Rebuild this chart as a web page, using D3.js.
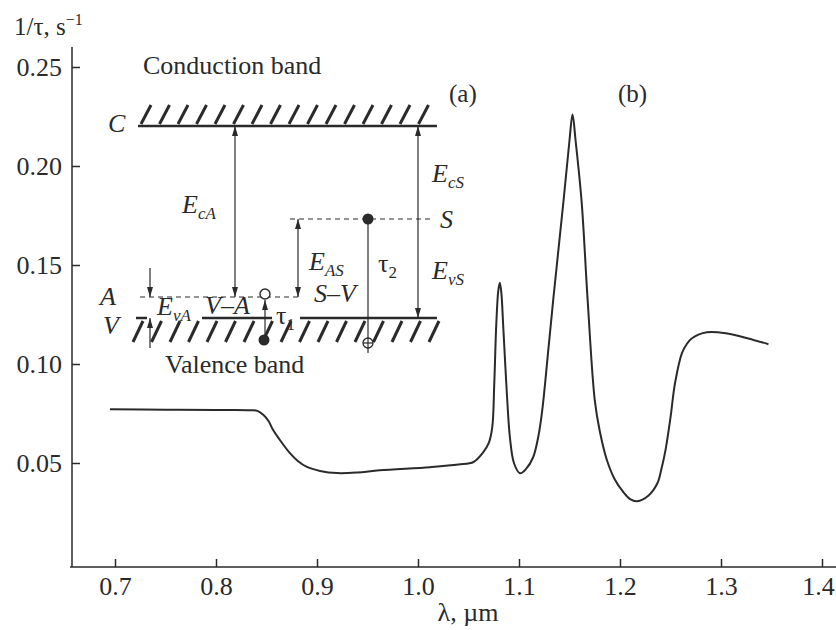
<!DOCTYPE html>
<html>
<head>
<meta charset="utf-8">
<script src="https://cdn.jsdelivr.net/npm/d3@7"></script>
<style>
  body { margin: 0; background: #fff; }
  text { font-family: "Liberation Serif", "DejaVu Serif", serif; fill: #2a2a2a; }
</style>
</head>
<body>
<script>
// curve
var wavelengths = [0.695, 0.750, 0.800, 0.834, 0.841, 0.847, 0.852, 0.856, 0.864, 0.873,
                   0.881, 0.890, 0.903, 0.920, 0.940, 0.962, 1.012, 1.040, 1.055, 1.064,
                   1.070, 1.0735, 1.0755, 1.0775, 1.0795, 1.081, 1.0825, 1.0845, 1.088, 1.091,
                   1.095, 1.101, 1.107, 1.114, 1.119, 1.123, 1.129, 1.134, 1.144, 1.150,
                   1.153, 1.156, 1.162, 1.168, 1.175, 1.180, 1.187, 1.195, 1.203, 1.210,
                   1.217, 1.228, 1.237, 1.241, 1.245, 1.250, 1.2545, 1.2614, 1.266, 1.2713,
                   1.286, 1.306, 1.326, 1.347];
var rates = [0.0771, 0.0769, 0.0768, 0.0767, 0.0763, 0.0742, 0.0712, 0.0672, 0.0611, 0.0551,
             0.0510, 0.0480, 0.0460, 0.0449, 0.0452, 0.0463, 0.0479, 0.0492, 0.0505, 0.0550,
             0.0600, 0.0680, 0.0900, 0.1200, 0.1370, 0.1410, 0.1360, 0.1180, 0.0850, 0.0630,
             0.0500, 0.0448, 0.0470, 0.0529, 0.0630, 0.0766, 0.1070, 0.1330, 0.1820, 0.2130,
             0.2260, 0.2130, 0.1820, 0.1320, 0.0818, 0.0660, 0.0515, 0.0415, 0.0355, 0.0318,
             0.0307, 0.0335, 0.0398, 0.0470, 0.0564, 0.0730, 0.0904, 0.1056, 0.1100, 0.1130,
             0.1160, 0.1154, 0.1130, 0.1100];
var xTicks = [0.7, 0.8, 0.9, 1.0, 1.1, 1.2, 1.3, 1.4];
var yTicks = [0.05, 0.10, 0.15, 0.20, 0.25];

function init(){
    var w = 836;
    var h = 630;
    var ink = "#2a2a2a";
    var fs = 26;

    var xScale = d3.scaleLinear()
                    .domain([0.7, 1.4])
                    .range([115, 822]);

    var yScale = d3.scaleLinear()
                    .domain([0.05, 0.25])
                    .range([463, 67]);

    var svg = d3.select("body")
                .append("svg")
                .attr("width", w)
                .attr("height", h);

    var defs = svg.append("defs");
    defs.append("marker")
        .attr("id", "head")
        .attr("viewBox", "0 0 10 6")
        .attr("refX", 10)
        .attr("refY", 3)
        .attr("markerUnits", "userSpaceOnUse")
        .attr("markerWidth", 10)
        .attr("markerHeight", 6)
        .attr("orient", "auto-start-reverse")
        .append("path")
        .attr("d", "M0,0 L10,3 L0,6 z")
        .attr("fill", ink);

    // axes
    var yAxis = d3.axisLeft(yScale)
                  .tickValues(yTicks)
                  .tickSizeInner(-8)
                  .tickSizeOuter(0)
                  .tickPadding(10)
                  .tickFormat(d3.format(".2f"));
    var gy = svg.append("g")
                .attr("transform", "translate(72,0)")
                .call(yAxis);

    var xAxis = d3.axisBottom(xScale)
                  .tickValues(xTicks)
                  .tickSizeInner(-8)
                  .tickSizeOuter(0)
                  .tickPadding(10)
                  .tickFormat(d3.format(".1f"));
    var gx = svg.append("g")
                .attr("transform", "translate(0,567)")
                .call(xAxis);

    [gx, gy].forEach(function(g) {
        g.select(".domain").remove();
        g.selectAll("line").attr("stroke", ink).attr("stroke-width", 1.5);
        g.selectAll("text")
            .attr("font-size", fs)
            .attr("font-family", "Liberation Serif")
            .attr("fill", ink);
    });
    // last label sits right at the page edge
    gx.selectAll(".tick text")
        .filter(function(d) { return d === 1.4; })
        .attr("dx", -4);

    svg.append("line")
        .attr("x1", 72).attr("y1", 47)
        .attr("x2", 72).attr("y2", 567)
        .attr("stroke", ink).attr("stroke-width", 1.5);
    svg.append("line")
        .attr("x1", 70).attr("y1", 567)
        .attr("x2", 836).attr("y2", 567)
        .attr("stroke", ink).attr("stroke-width", 1.5);

    // axis titles
    var yTitle = svg.append("text")
        .attr("x", 14).attr("y", 35)
        .attr("font-size", 25);
    yTitle.append("tspan").text("1/\u03c4, s");
    yTitle.append("tspan").attr("dy", -10).attr("font-size", 16).text("\u22121");

    svg.append("text")
        .attr("x", 468).attr("y", 621)
        .attr("text-anchor", "middle")
        .attr("font-size", fs)
        .text("\u03bb, \u00b5m");

    // the curve
    var points = wavelengths.map(function(d, i) { return [d, rates[i]]; });
    var line = d3.line()
                 .x(function(d) { return xScale(d[0]); })
                 .y(function(d) { return yScale(d[1]); })
                 .curve(d3.curveCatmullRom.alpha(0.5));
    svg.append("path")
        .datum(points)
        .attr("d", line)
        .attr("fill", "none")
        .attr("stroke", ink)
        .attr("stroke-width", 2);

    // panel labels
    svg.append("text").attr("x", 449).attr("y", 102).attr("font-size", 25).text("(a)");
    svg.append("text").attr("x", 618).attr("y", 102).attr("font-size", 25).text("(b)");

    // ---- band diagram inset ----
    var g = svg.append("g");
    var thin = 1.2;

    function seg(x1, y1, x2, y2, opts) {
        opts = opts || {};
        var l = g.append("line")
            .attr("x1", x1).attr("y1", y1)
            .attr("x2", x2).attr("y2", y2)
            .attr("stroke", ink)
            .attr("stroke-width", opts.width || thin);
        if (opts.dash) l.attr("stroke-dasharray", opts.dash);
        if (opts.start) l.attr("marker-start", "url(#head)");
        if (opts.end) l.attr("marker-end", "url(#head)");
        return l;
    }

    function hatch(x0, x1, yTop, yBot, step) {
        d3.range(x0, x1, step).forEach(function(x) {
            seg(x, yBot, x + 10, yTop, { width: 3 });
        });
    }

    function label(x, y, main, sub) {
        var t = g.append("text")
            .attr("x", x).attr("y", y)
            .attr("font-size", fs)
            .attr("font-style", "italic");
        t.append("tspan").text(main);
        if (sub) {
            t.append("tspan")
                .attr("dy", 6)
                .attr("font-size", 17)
                .text(sub);
        }
        return t;
    }

    g.append("text").attr("x", 143).attr("y", 74).attr("font-size", fs).text("Conduction band");
    g.append("text").attr("x", 165).attr("y", 373).attr("font-size", fs).text("Valence band");

    // conduction band
    seg(138, 126, 437, 126, { width: 2.5 });
    hatch(141, 430, 105, 124, 18.5);
    label(108, 132, "C");

    // valence band
    seg(136, 318, 147, 318, { width: 2.5 });
    seg(202, 318, 272, 318, { width: 2.5 });
    seg(300, 318, 437, 318, { width: 2.5 });
    hatch(133, 430, 321, 342, 18.5);
    label(100, 305, "A");
    label(103, 334, "V");

    // acceptor level A and level S
    seg(140, 297, 300, 297, { dash: "5,4" });
    seg(290, 219, 433, 219, { dash: "5,4" });
    label(440, 228, "S");

    // E_cA
    seg(235, 126, 235, 297, { start: true, end: true });
    label(182, 213, "E", "cA");

    // E_cS / E_vS
    seg(418, 126, 418, 318, { start: true, end: true });
    label(432, 182, "E", "cS");
    label(432, 279, "E", "vS");

    // E_AS
    seg(298, 219, 298, 297, { start: true, end: true });
    label(309, 270, "E", "AS");

    // E_vA
    seg(150, 268, 150, 297, { end: true });
    seg(150, 348, 150, 318, { end: true });
    label(157, 315, "E", "vA");
    g.append("text").attr("x", 205).attr("y", 314).attr("font-size", fs)
        .attr("font-style", "italic").text("V\u2013A");
    g.append("text").attr("x", 314).attr("y", 302).attr("font-size", fs)
        .attr("font-style", "italic").text("S\u2013V");

    // tau1 transition
    seg(265, 340, 265, 318);
    seg(265, 318, 265, 300, { end: true });
    g.append("circle").attr("cx", 265).attr("cy", 294).attr("r", 5)
        .attr("fill", "#fff").attr("stroke", ink).attr("stroke-width", 1.4);
    g.append("circle").attr("cx", 264).attr("cy", 340).attr("r", 5.5).attr("fill", ink);
    var t1 = g.append("text").attr("x", 276).attr("y", 324).attr("font-size", fs);
    t1.append("tspan").text("\u03c4");
    t1.append("tspan").attr("dy", 6).attr("font-size", 17).text("1");

    // tau2 transition
    seg(368, 219, 368, 353);
    g.append("circle").attr("cx", 368).attr("cy", 219).attr("r", 5.5).attr("fill", ink);
    g.append("circle").attr("cx", 368).attr("cy", 343).attr("r", 5)
        .attr("fill", "#fff").attr("stroke", ink).attr("stroke-width", 1.3);
    seg(363, 343, 373, 343);
    seg(368, 338, 368, 348);
    var t2 = g.append("text").attr("x", 378).attr("y", 272).attr("font-size", fs);
    t2.append("tspan").text("\u03c4");
    t2.append("tspan").attr("dy", 6).attr("font-size", 17).text("2");
}

window.onload = init;
</script>
</body>
</html>
